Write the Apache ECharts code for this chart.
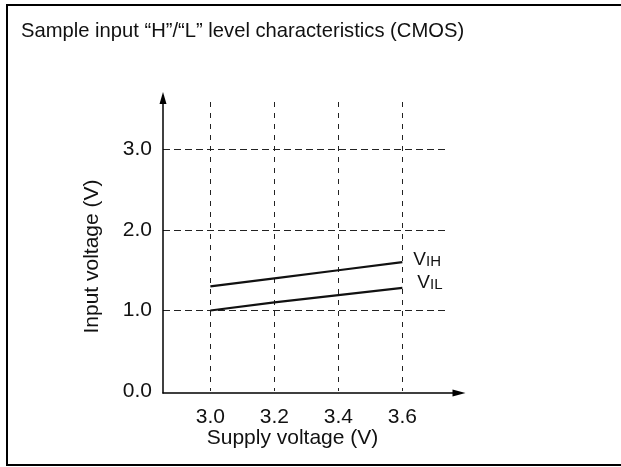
<!DOCTYPE html>
<html>
<head>
<meta charset="utf-8">
<script src="https://cdn.jsdelivr.net/npm/echarts@6/dist/echarts.min.js"></script>
<style>
  html, body { margin: 0; padding: 0; background: #fff; }
  #chart { width: 621px; height: 467px; }
</style>
</head>
<body>
<div id="chart"></div>
<script>
// Supply voltage (V) and the measured input threshold levels (V)
const supplyVoltage = [3.0, 3.2, 3.4, 3.6];
const vihLevel = [1.30, 1.40, 1.50, 1.60];
const vilLevel = [1.00, 1.10, 1.19, 1.28];

// Tick values for each axis
const xTickValues = [3.0, 3.2, 3.4, 3.6];
const yTickValues = [0, 1, 2, 3];

// Visible value span of the plot area
const xSpan = [2.852, 3.7395];
const ySpan = [0, 3.59];

const FONT = '"Liberation Sans", Arial, Helvetica, sans-serif';
const INK = '#111';
const AXIS_FONT = 21;

const chart = echarts.init(document.getElementById('chart'), null, { renderer: 'canvas' });

function pairs(xs, ys) {
  return xs.map((x, i) => [x, ys[i]]);
}

function levelLabel(sub, offset) {
  return {
    show: true,
    distance: 0,
    offset: offset,
    formatter: '{v|V}{s|' + sub + '}',
    rich: {
      v: { fontFamily: FONT, fontSize: 19, color: INK, verticalAlign: 'bottom', lineHeight: 19 },
      s: { fontFamily: FONT, fontSize: 15, color: INK, verticalAlign: 'bottom', lineHeight: 19 }
    }
  };
}

const option = {
  backgroundColor: '#fff',
  animation: false,
  title: {
    text: 'Sample input \u201cH\u201d/\u201cL\u201d level characteristics (CMOS)',
    left: 21,
    top: 21,
    padding: 0,
    textStyle: { fontFamily: FONT, fontSize: 20.2, fontWeight: 'normal', color: INK }
  },
  graphic: [{
    type: 'rect',
    shape: { x: 7, y: 5, width: 620, height: 460 },
    style: { fill: 'none', stroke: '#000', lineWidth: 2 },
    silent: true,
    z: 100
  }],
  grid: [
    // plot area: grid lines, labels and curves
    { left: 163, top: 102, width: 284, height: 289 },
    // arrowed axis lines
    { left: 163, top: 98, width: 296, height: 295 }
  ],
  xAxis: [
    {
      gridIndex: 0,
      type: 'value',
      min: xSpan[0],
      max: xSpan[1],
      axisLine: { show: false },
      axisTick: { show: false, customValues: xTickValues },
      axisLabel: {
        customValues: xTickValues,
        margin: 16,
        fontFamily: FONT, fontSize: AXIS_FONT, color: INK,
        formatter: v => v.toFixed(1)
      },
      splitLine: {
        show: true,
        lineStyle: { color: '#222', width: 1, type: [5, 6] }
      },
      name: 'Supply voltage (V)',
      nameLocation: 'middle',
      nameGap: 37,
      nameMoveOverlap: false,
      nameTextStyle: { fontFamily: FONT, fontSize: AXIS_FONT, color: INK, padding: [0, 25, 0, 0] }
    },
    {
      gridIndex: 1,
      type: 'value',
      min: 0, max: 1,
      axisLine: { show: true, symbol: ['none', 'triangle'], symbolSize: [7, 13], lineStyle: { color: '#000', width: 1.5 } },
      axisTick: { show: false },
      axisLabel: { show: false },
      splitLine: { show: false }
    }
  ],
  yAxis: [
    {
      gridIndex: 0,
      type: 'value',
      min: ySpan[0],
      max: ySpan[1],
      axisLine: { show: false },
      axisTick: { show: false, customValues: yTickValues },
      axisLabel: {
        customValues: yTickValues,
        margin: 11,
        fontFamily: FONT, fontSize: AXIS_FONT, color: INK,
        formatter: v => v.toFixed(1)
      },
      splitLine: {
        show: true,
        showMinLine: false,
        lineStyle: { color: '#222', width: 1, type: [7, 4] }
      },
      name: 'Input voltage (V)',
      nameLocation: 'middle',
      nameGap: 60,
      nameRotate: 90,
      nameMoveOverlap: false,
      nameTextStyle: { fontFamily: FONT, fontSize: AXIS_FONT, color: INK, padding: [0, 20, 0, 0] }
    },
    {
      gridIndex: 1,
      type: 'value',
      min: 0, max: 1,
      axisLine: { show: true, symbol: ['none', 'triangle'], symbolSize: [7, 12], lineStyle: { color: '#000', width: 1.5 } },
      axisTick: { show: false },
      axisLabel: { show: false },
      splitLine: { show: false }
    }
  ],
  series: [
    {
      name: 'VIH',
      type: 'line',
      xAxisIndex: 0,
      yAxisIndex: 0,
      data: pairs(supplyVoltage, vihLevel),
      symbol: 'none',
      lineStyle: { color: INK, width: 2.2 },
      endLabel: levelLabel('IH', [11, -2])
    },
    {
      name: 'VIL',
      type: 'line',
      xAxisIndex: 0,
      yAxisIndex: 0,
      data: pairs(supplyVoltage, vilLevel),
      symbol: 'none',
      lineStyle: { color: INK, width: 2.2 },
      endLabel: levelLabel('IL', [15, -5])
    }
  ]
};

chart.setOption(option);
</script>
</body>
</html>
